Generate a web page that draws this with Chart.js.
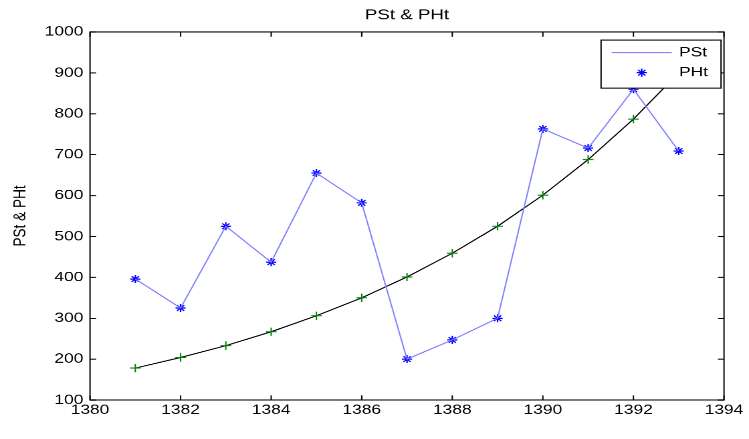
<!DOCTYPE html>
<html>
<head>
<meta charset="utf-8">
<script src="https://cdn.jsdelivr.net/npm/chart.js@4.4.1/dist/chart.umd.min.js"></script>
<style>
  html, body { margin: 0; padding: 0; background: #fff; overflow: hidden; }
  /* the original figure is 560x420, stretched to 749x439 */
  #wrap { width: 560px; height: 420px; transform: scale(1.3375, 1.04524); transform-origin: 0 0; }
</style>
</head>
<body>
<div id="wrap"><canvas id="chart" width="560" height="420"></canvas></div>
<script>
// data
const years = [1381, 1382, 1383, 1384, 1385, 1386, 1387, 1388, 1389, 1390, 1391, 1392, 1393];
const pstValues = [396, 325, 525, 437, 655, 582, 200, 247, 300, 763, 716, 860, 709];
const trendValues = [178, 204, 233, 267, 306, 350, 401, 459, 525, 601, 688, 787, 900];
const xTickValues = [1380, 1382, 1384, 1386, 1388, 1390, 1392, 1394];
const yTickValues = [100, 200, 300, 400, 500, 600, 700, 800, 900, 1000];

const FONT = '"Liberation Sans", Arial, sans-serif';

function points(values) {
	return years.map((y, i) => ({ x: y, y: values[i] }));
}

// box around the axes with inward ticks (matlab style)
const axesBox = {
	id: "axesBox",
	afterDatasetsDraw(chart) {
		const { ctx, chartArea, scales } = chart;
		const len = 4.5;
		ctx.save();
		ctx.strokeStyle = "#000";
		ctx.lineWidth = 1;
		ctx.strokeRect(chartArea.left, chartArea.top, chartArea.right - chartArea.left, chartArea.bottom - chartArea.top);
		ctx.beginPath();
		scales.x.ticks.forEach((t) => {
			const px = scales.x.getPixelForValue(t.value);
			ctx.moveTo(px, chartArea.bottom);
			ctx.lineTo(px, chartArea.bottom - len);
			ctx.moveTo(px, chartArea.top);
			ctx.lineTo(px, chartArea.top + len);
		});
		scales.y.ticks.forEach((t) => {
			const py = scales.y.getPixelForValue(t.value);
			ctx.moveTo(chartArea.left, py);
			ctx.lineTo(chartArea.left + len, py);
			ctx.moveTo(chartArea.right, py);
			ctx.lineTo(chartArea.right - len, py);
		});
		ctx.stroke();
		ctx.restore();
	},
};

// legend: line sample for PSt, star marker for PHt
const legendBox = {
	id: "legendBox",
	afterDraw(chart) {
		const { ctx, chartArea } = chart;
		const ds = chart.data.datasets;
		const w = 89.7, h = 46;
		const x = chartArea.right - 2.2 - w;
		const y = chartArea.top + 7.7;
		const row1 = y + 12.1, row2 = y + 31.3;
		ctx.save();
		ctx.fillStyle = "#fff";
		ctx.fillRect(x, y, w, h);
		ctx.strokeStyle = "#000";
		ctx.lineWidth = 1;
		ctx.strokeRect(x, y, w, h);

		ctx.strokeStyle = ds[0].borderColor;
		ctx.lineWidth = ds[0].borderWidth;
		ctx.beginPath();
		ctx.moveTo(x + 7.9, row1);
		ctx.lineTo(x + 52.8, row1);
		ctx.stroke();

		const r = 3.8, cx = x + 30.4, d = r * Math.SQRT1_2;
		ctx.strokeStyle = ds[1].pointBorderColor;
		ctx.lineWidth = 1.1;
		ctx.beginPath();
		ctx.moveTo(cx - r, row2); ctx.lineTo(cx + r, row2);
		ctx.moveTo(cx, row2 - r); ctx.lineTo(cx, row2 + r);
		ctx.moveTo(cx - d, row2 - d); ctx.lineTo(cx + d, row2 + d);
		ctx.moveTo(cx - d, row2 + d); ctx.lineTo(cx + d, row2 - d);
		ctx.stroke();

		ctx.fillStyle = "#000";
		ctx.font = "13px " + FONT;
		ctx.textBaseline = "middle";
		ctx.fillText(ds[0].label, x + 58.3, row1);
		ctx.fillText(ds[1].label, x + 58.3, row2);
		ctx.restore();
	},
};

new Chart(document.getElementById("chart"), {
	type: "line",
	data: {
		datasets: [
			{
				label: "PSt",
				data: points(pstValues),
				borderColor: "#7f7fff",
				borderWidth: 1,
				pointRadius: 0,
				tension: 0,
			},
			{
				label: "PHt",
				data: points(pstValues),
				showLine: false,
				pointStyle: "star",
				pointRadius: 3.8,
				pointBorderWidth: 1.1,
				pointBorderColor: "#0000ff",
				pointBackgroundColor: "#0000ff",
			},
			{
				label: "fit",
				data: points(trendValues),
				borderColor: "#000",
				borderWidth: 1,
				pointStyle: "cross",
				pointRadius: 4,
				pointBorderWidth: 1,
				pointBorderColor: "#008000",
				pointBackgroundColor: "#008000",
				tension: 0,
			},
		],
	},
	options: {
		responsive: false,
		animation: false,
		devicePixelRatio: 2,
		clip: false,
		layout: { padding: { top: 0, left: 0, right: 18.7, bottom: 0 } },
		plugins: {
			legend: { display: false },
			tooltip: { enabled: false },
			title: {
				display: true,
				text: "PSt & PHt",
				fullSize: false,
				color: "#000",
				font: { family: FONT, size: 14, weight: "normal" },
				padding: { top: 6, bottom: 7.8 },
			},
		},
		scales: {
			x: {
				type: "linear",
				min: 1380,
				max: 1394,
				afterBuildTicks: (scale) => {
					scale.ticks = xTickValues.map((v) => ({ value: v }));
				},
				afterFit: (scale) => {
					scale.height = 37.3;
				},
				grid: { display: false, drawTicks: false },
				border: { display: false },
				ticks: {
					color: "#000",
					padding: 2,
					maxRotation: 0,
					font: { family: FONT, size: 13 },
					callback: (v) => String(v),
				},
				title: {
					display: true,
					text: "YEAR",
					color: "#000",
					font: { family: FONT, size: 13 },
					padding: { top: 0, bottom: 2.7 },
				},
			},
			y: {
				min: 100,
				max: 1000,
				afterBuildTicks: (scale) => {
					scale.ticks = yTickValues.map((v) => ({ value: v }));
				},
				afterFit: (scale) => {
					scale.width = 67.3;
				},
				grid: { display: false, drawTicks: false },
				border: { display: false },
				ticks: {
					color: "#000",
					padding: 5,
					font: { family: FONT, size: 13 },
					callback: (v) => String(v),
				},
				title: {
					display: true,
					text: "PSt & PHt",
					color: "#000",
					font: { family: FONT, size: 13 },
					padding: { top: 7.5, bottom: 0 },
				},
			},
		},
	},
	plugins: [axesBox, legendBox],
});
</script>
</body>
</html>
